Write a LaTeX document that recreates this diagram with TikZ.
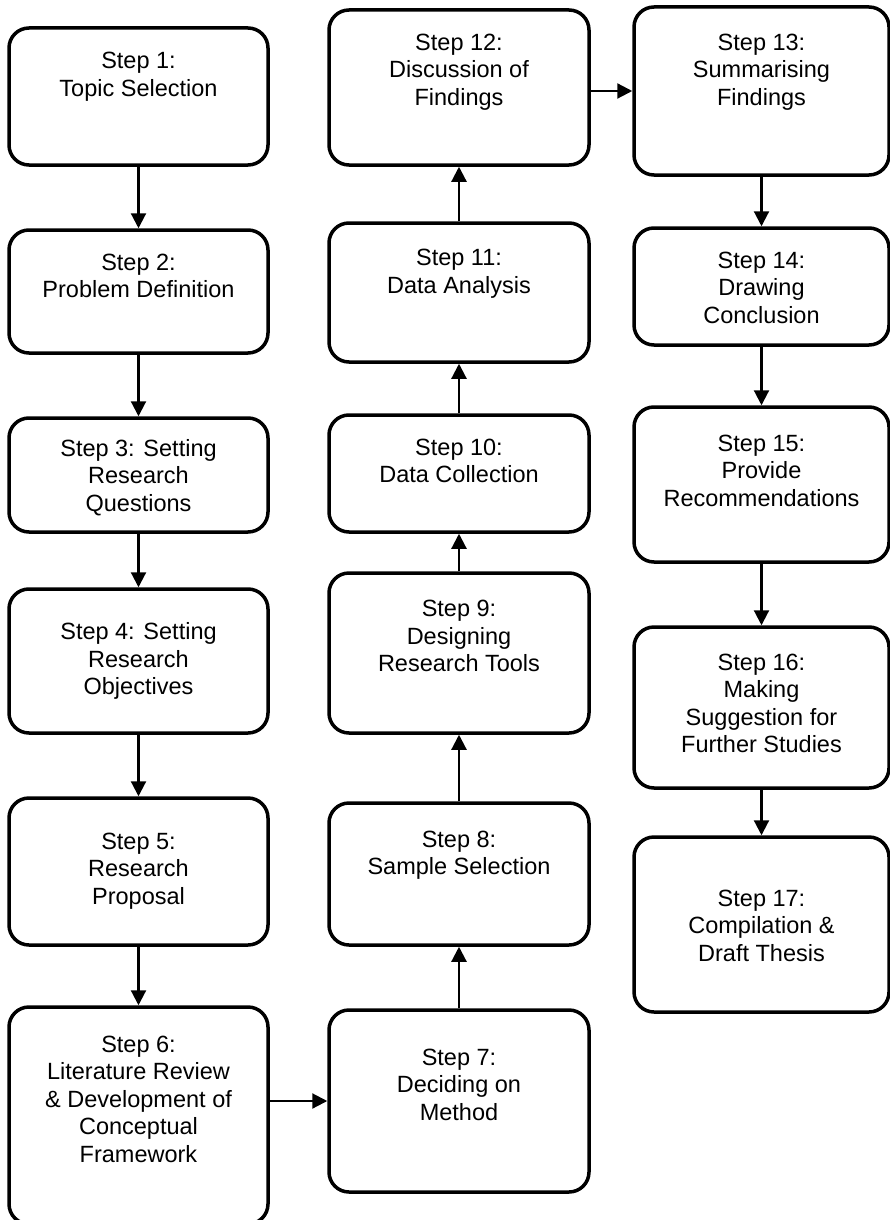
\documentclass[tikz,border=0pt]{standalone}
\usepackage{fontspec}
\setmainfont{Liberation Sans}
\usetikzlibrary{arrows.meta,calc}
\tikzset{
  stepbox/.style={draw, line width=3.5pt, rounded corners=20pt, inner sep=0pt},
  steptext/.style={align=center, inner sep=0pt, font=\fontsize{23.5}{27.5}\selectfont},
  flow/.style={line width=2.2pt, -{Triangle[width=15pt,length=15pt]}}
}
\begin{document}
\begin{tikzpicture}[x=1pt,y=-1pt]
\useasboundingbox (0,0) rectangle (890,1220);
% column 1
\node[stepbox, minimum width=259pt, minimum height=137pt] (s1) at (138.5,96.5) {};
\node[steptext] (t1) at (138.5,76.5) {Step 1:\\Topic Selection};
\node[stepbox, minimum width=259pt, minimum height=123pt] (s2) at (138.5,291.5) {};
\node[steptext] (t2) at (138.5,276) {Step 2:\\Problem Definition};
\node[stepbox, minimum width=259pt, minimum height=114pt] (s3) at (138.5,475) {};
\node[steptext] (t3) at (138.5,477.5) {Step 3: Setting\\Research\\Questions};
\node[stepbox, minimum width=259pt, minimum height=144pt] (s4) at (138.5,661) {};
\node[steptext] (t4) at (138.5,661) {Step 4: Setting\\Research\\Objectives};
\node[stepbox, minimum width=259pt, minimum height=147pt] (s5) at (138.5,871.5) {};
\node[steptext] (t5) at (138.5,871) {Step 5:\\Research\\Proposal};
\node[stepbox, minimum width=259pt, minimum height=217pt] (s6) at (138.5,1115.5) {};
\node[steptext] (t6) at (138.5,1099) {Step 6:\\Literature Review\\\& Development of\\Conceptual\\Framework};
% column 2
\node[stepbox, minimum width=260pt, minimum height=182pt] (s7) at (459,1101) {};
\node[steptext] (t7) at (459,1084.5) {Step 7:\\Deciding on\\Method};
\node[stepbox, minimum width=260pt, minimum height=142pt] (s8) at (459,874) {};
\node[steptext] (t8) at (459,855) {Step 8:\\Sample Selection};
\node[stepbox, minimum width=260pt, minimum height=160pt] (s9) at (459,653) {};
\node[steptext] (t9) at (459,636) {Step 9:\\Designing\\Research Tools};
\node[stepbox, minimum width=260pt, minimum height=117pt] (s10) at (459,473.5) {};
\node[steptext] (t10) at (459,461) {Step 10:\\Data Collection};
\node[stepbox, minimum width=260pt, minimum height=139pt] (s11) at (459,292.5) {};
\node[steptext] (t11) at (459,273.5) {Step 11:\\Data Analysis};
\node[stepbox, minimum width=260pt, minimum height=155pt] (s12) at (459,87.5) {};
\node[steptext] (t12) at (459,72) {Step 12:\\Discussion of\\Findings};
% column 3
\node[stepbox, minimum width=255pt, minimum height=168pt] (s13) at (761.5,91) {};
\node[steptext] (t13) at (761.5,72) {Step 13:\\Summarising\\Findings};
\node[stepbox, minimum width=255pt, minimum height=117pt] (s14) at (761.5,286.5) {};
\node[steptext] (t14) at (761.5,287.5) {Step 14:\\Drawing\\Conclusion};
\node[stepbox, minimum width=255pt, minimum height=155pt] (s15) at (761.5,484.5) {};
\node[steptext] (t15) at (761.5,470.5) {Step 15:\\Provide\\Recommendations};
\node[stepbox, minimum width=255pt, minimum height=161pt] (s16) at (761.5,707.5) {};
\node[steptext] (t16) at (761.5,703.5) {Step 16:\\Making\\Suggestion for\\Further Studies};
\node[stepbox, minimum width=255pt, minimum height=175pt] (s17) at (761.5,924.5) {};
\node[steptext] (t17) at (761.5,925.5) {Step 17:\\Compilation \&\\Draft Thesis};
% connectors
\draw[flow] (s1.south) -- (s2.north);
\draw[flow] (s2.south) -- (s3.north);
\draw[flow] (s3.south) -- (s4.north);
\draw[flow] (s4.south) -- (s5.north);
\draw[flow] (s5.south) -- (s6.north);
\draw[flow] (s7.west -| s6.east) -- (s7.west);
\draw[flow] (s7.north) -- (s8.south);
\draw[flow] (s8.north) -- (s9.south);
\draw[flow] (s9.north) -- (s10.south);
\draw[flow] (s10.north) -- (s11.south);
\draw[flow] (s11.north) -- (s12.south);
\draw[flow] (s13.west -| s12.east) -- (s13.west);
\draw[flow] (s13.south) -- (s14.north);
\draw[flow] (s14.south) -- (s15.north);
\draw[flow] (s15.south) -- (s16.north);
\draw[flow] (s16.south) -- (s17.north);
\end{tikzpicture}
\end{document}
